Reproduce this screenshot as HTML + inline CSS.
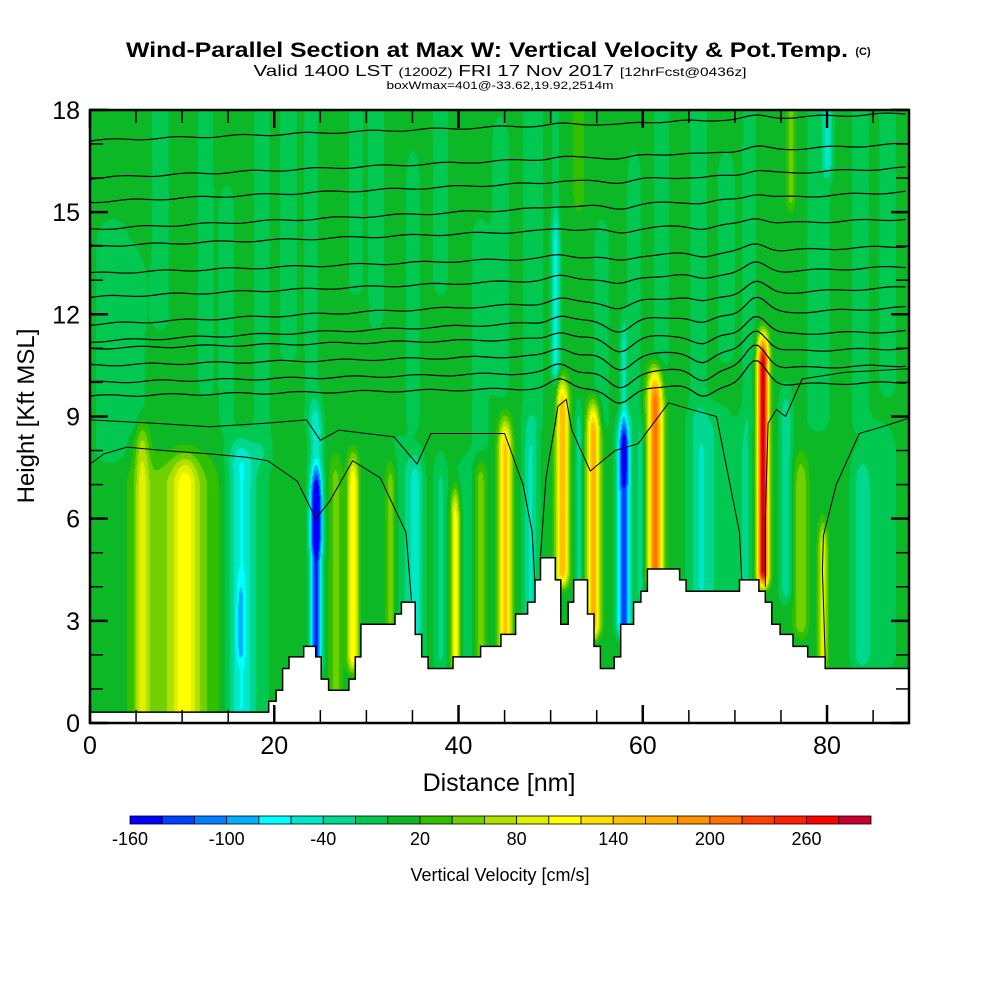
<!DOCTYPE html>
<html><head><meta charset="utf-8"><style>
html,body{margin:0;padding:0;background:#fff;width:1000px;height:1000px;overflow:hidden}
#wrap{position:relative;width:1000px;height:1000px}
canvas{position:absolute;left:90px;top:110px}
svg{position:absolute;left:0;top:0}
text{font-family:"Liberation Sans",sans-serif}
</style></head><body>
<div id="wrap">
<canvas id="field" width="819" height="613"></canvas>
<svg id="svg" width="1000" height="1000">
<text x="487" y="57" text-anchor="middle" font-size="21" font-weight="bold" textLength="722" lengthAdjust="spacingAndGlyphs">Wind-Parallel Section at Max W: Vertical Velocity &amp; Pot.Temp.</text>
<text x="863" y="55" text-anchor="middle" font-size="11" font-weight="bold">(C)</text>
<text x="500" y="76" text-anchor="middle" font-size="16" textLength="493" lengthAdjust="spacingAndGlyphs">Valid 1400 LST <tspan font-size="12">(1200Z)</tspan> FRI 17 Nov 2017 <tspan font-size="12">[12hrFcst@0436z]</tspan></text>
<text x="500" y="89" text-anchor="middle" font-size="11" textLength="227" lengthAdjust="spacingAndGlyphs">boxWmax=401@-33.62,19.92,2514m</text>
<g id="contours"></g>
<path id="terrain" fill="#fff" stroke="#000" stroke-width="1.5"/>
<g id="axes"></g>
<rect x="90" y="110" width="819" height="613" fill="none" stroke="#000" stroke-width="2.5"/>
<text x="499" y="791" text-anchor="middle" font-size="25">Distance [nm]</text>
<text transform="translate(34,416) rotate(-90)" text-anchor="middle" font-size="24">Height [Kft MSL]</text>
<g id="cbar"></g>
<text x="500" y="881" text-anchor="middle" font-size="18">Vertical Velocity [cm/s]</text>
</svg>
</div>
<script>
// ---- data ----
const cbarColors=["#0000ff","#0040ff","#0080ff","#00b0ff","#00ffff","#00e8c8","#00d890","#00c850","#0cb826","#30c000","#70d000","#b0e000","#e0f000","#ffff00","#ffe000","#ffc000","#ffb000","#ff9000","#ff7000","#ff4000","#ff2000","#ff0000","#c80030"];
const cbarMin=-160, cbarStep=20;
const cbarTicks=[-160,-100,-40,20,80,140,200,260];
const xTicks=[0,20,40,60,80];
const yTicks=[0,3,6,9,12,15,18];
// terrain step edges (nm) and heights (kft)
const terrEdge=[0,19.4,20.2,20.9,21.6,23.2,24.5,25.1,25.9,28.1,28.8,29.4,33.1,33.8,35.3,36.0,36.7,39.4,42.4,44.6,46.2,47.5,48.3,48.9,50.5,51.1,51.9,52.5,54.0,54.7,55.4,56.9,57.6,59.0,59.8,60.5,64.0,64.7,70.5,72.6,73.3,74.0,74.9,76.3,77.9,79.8,88.9];
const terrH=[0.32,0.64,0.96,1.6,1.94,2.25,1.94,1.29,0.96,1.29,1.94,2.9,3.2,3.55,2.6,1.94,1.6,1.94,2.25,2.6,3.2,3.55,4.2,4.85,4.2,2.9,3.55,4.2,3.2,2.25,1.6,1.94,2.9,3.55,3.87,4.52,4.2,3.87,4.2,3.87,3.55,2.9,2.6,2.25,1.94,1.6];
// vertical-velocity features: centre (nm), half-width (nm), amplitude (cm/s), bottom & top (kft)
const featC=[9.5,5.6,10.3,16.3,16.3,24.5,24.5,26.6,28.5,32.6,35.3,38.0,39.6,42.3,45.0,47.8,51.2,53.0,54.6,57.9,57.9,59.7,61.3,66.2,71.1,73.0,75.5,77.1,79.5,83.6,
  17,33.5,41,67.5,85.5,
  2.4,7.6,18.6,24.0,28.8,42.3,48.0,50.5,50.5,53.0,59.0,66.0,76.0,79.0,80.0,83.6,
  12.5,14.8,21.5,31,35,38,44.5,55.5,62,69,71.5,86.5,4.5];
const featW=[4.5,0.8,1.3,1.4,0.4,0.6,0.7,0.7,0.6,0.7,0.8,0.7,0.5,0.7,0.7,0.8,0.7,0.4,0.7,0.7,0.4,0.4,0.8,1.0,0.7,0.6,0.7,0.8,0.5,1.0,
  2.5,2.0,1.5,2.5,2.0,
  2.0,1.0,1.0,0.8,0.8,1.0,1.2,0.5,0.35,0.6,0.8,1.0,0.5,1.4,0.5,1.0,
  0.9,0.9,1.0,0.9,0.8,0.9,1.0,0.9,0.9,1.0,0.8,1.0,1.5];
const featA=[50,60,60,-55,-35,-150,-60,40,110,60,-50,-30,110,50,140,-50,150,-40,160,-140,-50,-40,200,-30,-30,280,-40,50,90,-30,
  -20,-25,-20,-25,-20,
  -18,-18,-18,-18,-18,-18,-18,-45,-25,30,-18,-18,40,-18,-50,-18,
  -18,-18,-18,-18,-18,-18,-18,-18,-18,-18,-18,-18,-18];
const featH0=[0,0,0,0.5,2.3,2.0,5.5,1,2,2,1.5,2,2,2,2,3,4.5,4,3,3,7.5,4,4.5,4,4,4.5,4,3,2,2,
  0,2,2,4,2,
  8,12,8,9,13,8,9,10.5,9,15.5,9,9,15.5,9,16.5,9,
  10,9,11,12,9,13,10,9,10,11,9,10,9];
const featH1=[7,8,7,7.5,3.3,6.5,8.5,7,7,7,7,7,6,7,8,8,9.2,8.5,8.5,8,11,8,9.5,8,8,10.5,9,7,5,7,
  7.5,7.5,7,8.5,8,
  14,18,18,18,18,14,18,14,18,18,16,18,18,18,18,18,
  18,15,18,18,16,18,17,14,18,16,18,18,13];
// potential temperature isentropes: left & right heights (kft), wave amplitude
const isoLeft=[9.6,10.0,10.5,11.0,11.2,11.7,12.5,13.2,14.0,14.5,15.3,16.0,17.1];
const isoRight=[10.0,10.5,11.0,11.5,12.2,12.8,13.4,14.0,14.8,15.6,16.3,17.0,17.9];
const isoAmp=[1.0,1.0,0.9,0.8,0.7,0.5,0.4,0.3,0.25,0.2,0.15,0.15,0.1];
// irregular low-level contours (nm, kft pairs)
const lowLines=[
 [[0,7.6],[1.5,7.9],[4,8.1],[8,8.0],[13,7.9],[17,7.8],[19.3,7.7],[22.5,7.1],[24.5,6.0],[26,6.5],[28.5,7.7],[31.5,7.2],[34.3,5.6],[34.9,3.6]],
 [[0,8.9],[7,8.8],[13,8.7],[19,8.8],[23.5,8.9],[25,8.3],[27,8.6],[33,8.4],[35.5,7.6],[37,8.5],[45,8.5],[47,7.0],[48,5.6],[48.4,3.6]],
 [[48.9,4.9],[49.5,7.2],[50.8,9.3],[51.7,9.5],[52.3,8.6],[54.3,7.4],[57,8.0],[59.5,8.2],[62.8,9.4],[64,9.3],[68,9.0],[70.5,5.6],[70.8,3.9]],
 [[73.3,4.0],[73.3,6.0],[73.6,8.8],[74.5,9.2],[75.5,9.0],[77.3,10.1],[82,10.3],[88.9,10.4]],
 [[88.9,8.95],[86,8.7],[83.5,8.5],[81,7.0],[79.6,5.5],[79.5,4.5],[79.8,1.9]]
];
// ---- scales ----
const X=nm=>90+nm*9.213, Y=k=>723-k*34.06;
const NS='http://www.w3.org/2000/svg';
function mk(tag,attrs,parent){const e=document.createElementNS(NS,tag);for(const k in attrs)e.setAttribute(k,attrs[k]);parent.appendChild(e);return e;}
const sm=(a,b,x)=>{let t=(x-a)/(b-a);t=Math.max(0,Math.min(1,t));return t*t*(3-2*t);};
function colorIdx(v){let k=Math.floor((v-cbarMin)/cbarStep);return Math.max(0,Math.min(cbarColors.length-1,k));}
// ---- field ----
const cv=document.getElementById('field'),ctx=cv.getContext('2d');
const img=ctx.createImageData(819,613);
const rgb=cbarColors.map(c=>[parseInt(c.substr(1,2),16),parseInt(c.substr(3,2),16),parseInt(c.substr(5,2),16)]);
for(let px=0;px<819;px++){
  const nm=px/9.213;
  const hw=featC.map((c,i)=>Math.exp(-Math.pow((nm-c)/featW[i],2)));
  for(let py=0;py<613;py++){
    const h=(613-py)/34.06;
    let v=8;
    for(let i=0;i<featC.length;i++){
      if(hw[i]<0.01)continue;
      const env=sm(featH0[i]-0.8,featH0[i],h)*(1-sm(featH1[i],featH1[i]+1.5,h));
      v+=featA[i]*hw[i]*env;
    }
    const c=rgb[colorIdx(v)],o=(py*819+px)*4;
    img.data[o]=c[0];img.data[o+1]=c[1];img.data[o+2]=c[2];img.data[o+3]=255;
  }
}
ctx.putImageData(img,0,0);
// ---- contours ----
const cg=document.getElementById('contours');
isoLeft.forEach((hl,i)=>{
  let d='';
  for(let nm=0;nm<=88.9;nm+=0.5){
    const base=hl+(isoRight[i]-hl)*nm/88.9;
    const w=isoAmp[i]*(0.7*Math.exp(-Math.pow((nm-72.3)/1.6,2))-0.5*Math.exp(-Math.pow((nm-57.5)/1.8,2))-0.3*Math.exp(-Math.pow((nm-66.5)/1.5,2))+0.25*Math.exp(-Math.pow((nm-51)/1.5,2)))+0.03*Math.sin(nm*0.9+i);
    d+=(d?'L':'M')+X(nm).toFixed(1)+','+Y(base+w).toFixed(1);
  }
  const p=mk('path',{d:d,fill:'none',stroke:'#000','stroke-width':'1.2'},cg);
  
  
});
lowLines.forEach(line=>{
  const d=line.map((p,j)=>(j?'L':'M')+X(p[0]).toFixed(1)+','+Y(p[1]).toFixed(1)).join('');
  const p=mk('path',{d:d,fill:'none',stroke:'#000','stroke-width':'1'},cg);
  
  
});
// ---- terrain ----
let td='M'+X(0)+','+Y(0);
terrH.forEach((h,i)=>{td+='L'+X(terrEdge[i]).toFixed(1)+','+Y(h).toFixed(1)+'L'+X(terrEdge[i+1]).toFixed(1)+','+Y(h).toFixed(1);});
td+='L'+X(88.9)+','+Y(0)+'Z';
document.getElementById('terrain').setAttribute('d',td);
// ---- axes ----
const ag=document.getElementById('axes');
for(let k=0;k<=18;k++){
  const major=k%3===0,len=major?18:13,y=Y(k);
  mk('line',{x1:90,y1:y,x2:90+len,y2:y,stroke:'#000','stroke-width':major?2.5:1.5},ag);
  mk('line',{x1:909,y1:y,x2:909-len,y2:y,stroke:'#000','stroke-width':major?2.5:1.5},ag);
}
for(let n=0;n<=85;n+=5){
  const major=n%20===0,len=major?18:13,x=X(n);
  mk('line',{x1:x,y1:723,x2:x,y2:723-len,stroke:'#000','stroke-width':major?2.5:1.5},ag);
  mk('line',{x1:x,y1:110,x2:x,y2:110+len,stroke:'#000','stroke-width':major?2.5:1.5},ag);
}
yTicks.forEach(v=>{
  const t=mk('text',{x:80,y:Y(v)+9,'text-anchor':'end','font-size':'25'},ag);t.textContent=v;
  
  
});
xTicks.forEach(v=>{
  const t=mk('text',{x:X(v),y:754,'text-anchor':'middle','font-size':'25'},ag);t.textContent=v;
  
  
});
// ---- colorbar ----
const cb=document.getElementById('cbar'),bw=741/cbarColors.length;
cbarColors.forEach((c,i)=>{
  const r=mk('rect',{x:130+i*bw,y:816,width:bw,height:8,fill:c,stroke:'#000','stroke-width':'0.8'},cb);
  
  
});
cbarTicks.forEach(v=>{
  const t=mk('text',{x:130+(v-cbarMin)/cbarStep*bw,y:845,'text-anchor':'middle','font-size':'18'},cb);t.textContent=v;
  
  
});
</script>
</body></html>
